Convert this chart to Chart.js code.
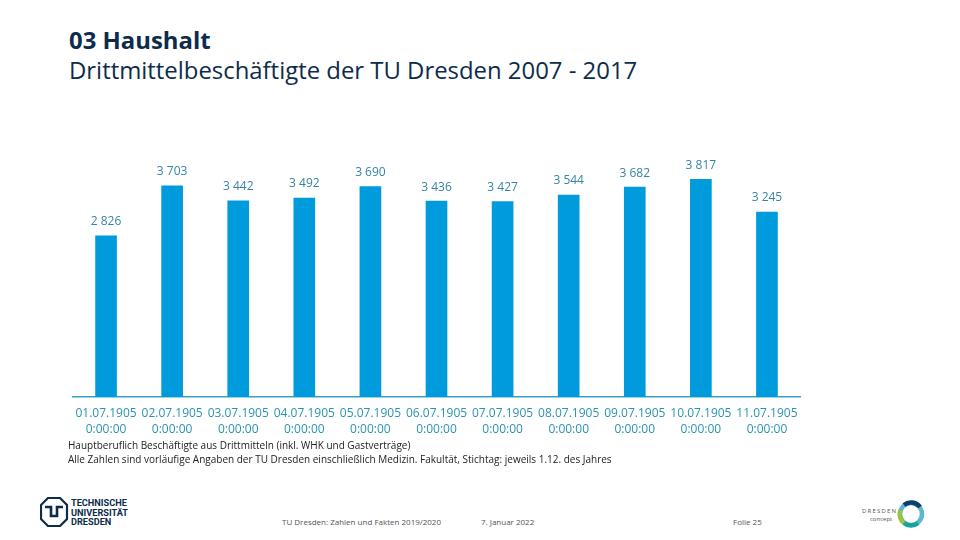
<!DOCTYPE html>
<html>
<head>
<meta charset="utf-8">
<script src="https://cdn.jsdelivr.net/npm/chart.js@4"></script>
<style>
  body { margin: 0; width: 960px; height: 540px; background: #fff; position: relative; overflow: hidden; font-family: "Open Sans", sans-serif; }
  .title { position: absolute; left: 69px; top: 25px; color: #0d2c4c; font-size: 23.9px; line-height: 30px; }
  .title b { font-weight: 700; }
  #wrap { position: absolute; left: 0; top: 0; width: 960px; height: 440px; }
  .note { position: absolute; left: 68px; top: 439px; font-size: 10px; line-height: 13.5px; color: #222; }
  .foot { position: absolute; top: 516px; font-size: 8px; color: #555; }
  .logo { position: absolute; left: 40px; top: 497px; }
  .logo2 { position: absolute; left: 860px; top: 498px; }
</style>
</head>
<body>
<div class="title"><b>03 Haushalt</b><br>Drittmittelbeschäftigte der TU Dresden 2007 - 2017</div>
<div id="wrap"><canvas id="myChart"></canvas></div>
<div class="note">Hauptberuflich Beschäftigte aus Drittmitteln (inkl. WHK und Gastverträge)<br>Alle Zahlen sind vorläufige Angaben der TU Dresden einschließlich Medizin. Fakultät, Stichtag: jeweils 1.12. des Jahres</div>

<svg class="logo" width="95" height="30" viewBox="0 0 95 30">
  <polygon points="8,1 20,1 27,8 27,22 20,29 8,29 1,22 1,8" fill="none" stroke="#0d2c4c" stroke-width="2.2"/>
  <path d="M5,10 H11 V19 H17 V10 H23" fill="none" stroke="#0d2c4c" stroke-width="2.6"/>
  <text x="31" y="9" font-family="Roboto, sans-serif" font-weight="700" font-size="9.2" fill="#0d2c4c">TECHNISCHE</text>
  <text x="31" y="18.5" font-family="Roboto, sans-serif" font-weight="700" font-size="9.2" fill="#0d2c4c">UNIVERSITÄT</text>
  <text x="31" y="28" font-family="Roboto, sans-serif" font-weight="700" font-size="9.2" fill="#0d2c4c">DRESDEN</text>
</svg>
<div class="foot" style="left:282px">TU Dresden: Zahlen und Fakten 2019/2020</div>
<div class="foot" style="left:481px">7. Januar 2022</div>
<div class="foot" style="left:733px">Folie 25</div>
<svg class="logo2" width="70" height="34" viewBox="0 0 70 34">
  <text x="2" y="15" font-size="6" letter-spacing="1.2" fill="#555">DRESDEN</text>
  <text x="10" y="23" font-size="6" fill="#555">concept</text>
  <circle cx="51" cy="16" r="11" fill="none" stroke="#5bb6cf" stroke-width="4.5"/>
  <path d="M40.5,12 A11,11 0 0 0 44,25" fill="none" stroke="#9cc43a" stroke-width="4.5"/>
  <path d="M44,25 A11,11 0 0 0 58,25" fill="none" stroke="#1aa39a" stroke-width="4.5"/>
  <path d="M44,7 A11,11 0 0 1 60,9" fill="none" stroke="#0d3f6a" stroke-width="4.5"/>
</svg>

<script>
const categories = ["01.07.1905", "02.07.1905", "03.07.1905", "04.07.1905", "05.07.1905", "06.07.1905",
                    "07.07.1905", "08.07.1905", "09.07.1905", "10.07.1905", "11.07.1905"];
const timeLabel = "0:00:00";
const staffValues = [2826, 3703, 3442, 3492, 3690, 3436, 3427, 3544, 3682, 3817, 3245];

// numbers like "3 703"
function fmt(v) {
    return String(v).replace(/\B(?=(\d{3})+(?!\d))/g, " ");
}

// value labels above the bars
const valueLabels = {
    id: 'valueLabels',
    afterDatasetsDraw(chart) {
        const ctx = chart.ctx;
        const meta = chart.getDatasetMeta(0);
        ctx.save();
        ctx.font = '12px "Open Sans", sans-serif';
        ctx.fillStyle = '#3585a3';
        ctx.textAlign = 'center';
        ctx.textBaseline = 'middle';
        meta.data.forEach((bar, i) => {
            ctx.fillText(fmt(staffValues[i]), bar.x, bar.y - 14);
        });
        ctx.restore();
    }
};

const ctx = document.getElementById('myChart').getContext("2d");

const data = {
    labels: categories.map(c => [c, timeLabel]),
    datasets: [
        {
            data: staffValues,
            backgroundColor: "#009bdc",
            barThickness: 21,
        },
    ],
};

const config = {
    type: 'bar',
    data: data,
    options: {
        responsive: true,
        maintainAspectRatio: false,
        animation: false,
        layout: { padding: { left: 73, right: 160, top: 169, bottom: 0 } },
        plugins: {
            legend: { display: false },
            tooltip: { enabled: false },
        },
        scales: {
            x: {
                grid: { display: false, drawTicks: false },
                border: { color: "#3a9fc4", width: 1.5 },
                ticks: {
                    color: "#2a93b0",
                    font: { family: '"Open Sans", sans-serif', size: 12, lineHeight: 1.35 },
                    padding: 8,
                    maxRotation: 0,
                    autoSkip: false,
                },
                afterFit: (s) => { s.height = 43; },
            },
            y: {
                display: false,
                min: 0,
                max: 4000,
            },
        },
    },
    plugins: [valueLabels],
};

const myChart = new Chart(ctx, config);
</script>
</body>
</html>
